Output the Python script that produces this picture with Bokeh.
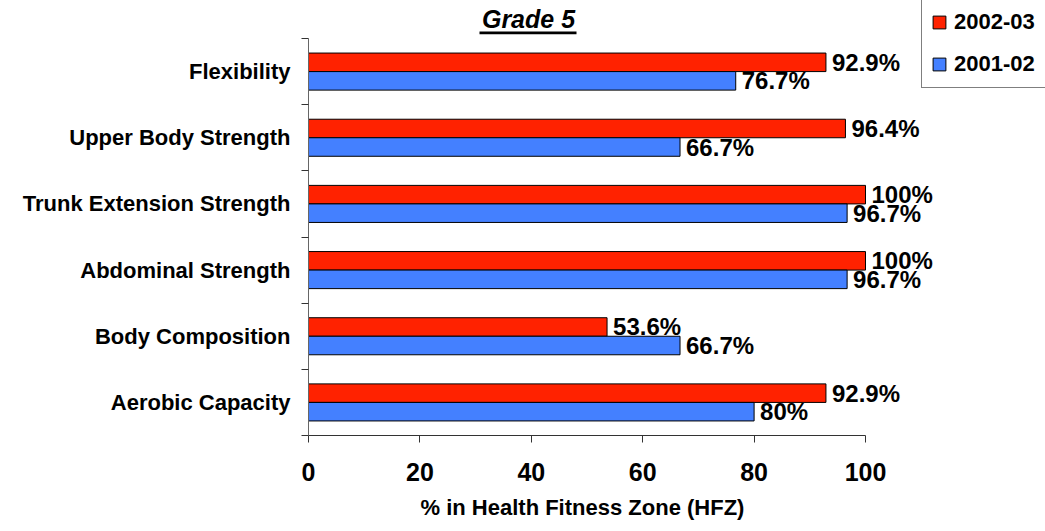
import numpy as np
from bokeh.plotting import figure
from bokeh.models import (ColumnDataSource, Range1d, FixedTicker, Label, BoxAnnotation,
                          LabelSet, Title)
from bokeh.core.properties import value
from bokeh.embed import file_html
from bokeh.resources import INLINE

# ---- data (top to bottom as shown) ----
categories = ["Flexibility", "Upper Body Strength", "Trunk Extension Strength",
              "Abdominal Strength", "Body Composition", "Aerobic Capacity"]
series_names = ["2002-03", "2001-02"]
values_0203 = [92.9, 96.4, 100, 100, 53.6, 92.9]
values_0102 = [76.7, 66.7, 96.7, 96.7, 66.7, 80]
x_ticks = [0, 20, 40, 60, 80, 100]
title_text = "Grade 5"
x_label = "% in Health Fitness Zone (HFZ)"

RED = "#FF2200"
BLUE = "#4480FF"
FONT = "Liberation Sans"

n = len(categories)
centers = np.array([n - 1 - i + 0.5 for i in range(n)])
offset = 0.14
bar_h = 0.28

src_a = ColumnDataSource(dict(
    y=centers + offset, v=values_0203,
    lab=[f"{v:g}%" for v in values_0203]))
src_b = ColumnDataSource(dict(
    y=centers - offset, v=values_0102,
    lab=[f"{v:g}%" for v in values_0102]))

# ---- layout (pixels) ----
W, H = 1045, 531
LEFT, BOTTOM = 308, 96           # frame left edge, bottom border
AXIS_PX_X = 557.0                # pixels spanned by 0..100
AXIS_PX_Y = 397.0                # pixels spanned by the six categories
frame_w = W - LEFT
frame_h = H - BOTTOM
sx = AXIS_PX_X / 100.0
sy = AXIS_PX_Y / n
x_max = frame_w / sx
y_max = frame_h / sy


def px_x(px):   # canvas x pixel -> data x
    return (px - LEFT) / sx


def px_y(py):   # canvas y pixel (from top) -> data y
    return (frame_h - py) / sy


p = figure(width=W, height=H, output_backend="svg", toolbar_location=None,
           x_range=Range1d(0, x_max), y_range=Range1d(0, y_max),
           min_border_left=LEFT, min_border_right=0, min_border_top=0,
           min_border_bottom=BOTTOM)
p.outline_line_color = None
p.xgrid.visible = False
p.ygrid.visible = False

p.hbar(y="y", right="v", left=0, height=bar_h, source=src_a, fill_color=RED,
       line_color="black", line_width=1, legend_label=series_names[0])
p.hbar(y="y", right="v", left=0, height=bar_h, source=src_b, fill_color=BLUE,
       line_color="black", line_width=1, legend_label=series_names[1])

for s in (src_a, src_b):
    p.add_layout(LabelSet(x="v", y="y", text="lab", source=s, x_offset=6,
                          text_baseline="middle", text_align="left",
                          text_font=value(FONT), text_font_size=value("24px"),
                          text_font_style=value("bold"), text_color=value("black")))

# x axis
xa = p.xaxis[0]
xa.bounds = (0, 100)
xa.ticker = FixedTicker(ticks=x_ticks, minor_ticks=[])
xa.major_label_text_font = FONT
xa.major_label_text_font_size = "25px"
xa.major_label_text_font_style = "bold"
xa.major_label_text_color = "black"
xa.major_tick_out = 7
xa.major_tick_in = 0
xa.minor_tick_out = 0
xa.major_label_standoff = 20
xa.axis_line_color = "#333333"
xa.major_tick_line_color = "#333333"

# x axis title, centred under the 0..100 span
p.add_layout(Title(text=x_label, align="left", offset=420 - LEFT, standoff=19,
                   text_font=FONT, text_font_size="22px", text_font_style="bold",
                   text_color="black"), "below")

# y axis
ya = p.yaxis[0]
ya.bounds = (0, n)
ya.ticker = FixedTicker(ticks=list(centers), minor_ticks=list(range(n + 1)))
ya.major_label_overrides = {float(c): cat for c, cat in zip(centers, categories)}
ya.major_label_text_font = FONT
ya.major_label_text_font_size = "22px"
ya.major_label_text_font_style = "bold"
ya.major_label_text_color = "black"
ya.major_tick_out = 0
ya.major_tick_in = 0
ya.minor_tick_out = 7
ya.minor_tick_in = 0
ya.minor_tick_line_color = "#333333"
ya.major_label_standoff = 11
ya.axis_line_color = "#666666"

# title with underline
p.add_layout(Label(x=px_x(528), y=px_y(18.5), text=title_text,
                   text_align="center", text_baseline="alphabetic",
                   text_font=FONT, text_font_size="25px",
                   text_font_style="bold italic", text_color="black"))
p.add_layout(BoxAnnotation(left=px_x(479), right=px_x(576),
                           top=px_y(31), bottom=px_y(33.7),
                           fill_color="black", fill_alpha=1, line_alpha=0,
                           editable=False))

# legend
lg = p.legend[0]
lg.location = (921 - LEFT, frame_h - 88)
lg.border_line_color = "black"
lg.border_line_width = 1
lg.background_fill_color = "white"
lg.background_fill_alpha = 1
lg.padding = 9
lg.spacing = 14
lg.margin = 0
lg.glyph_width = 16
lg.glyph_height = 16
lg.label_height = 28
lg.label_width = 86
lg.label_standoff = 7
lg.label_text_font = FONT
lg.label_text_font_size = "22px"
lg.label_text_font_style = "bold"
lg.label_text_color = "black"
lg.label_text_baseline = "middle"

open("out.html", "w").write(file_html(p, INLINE))
